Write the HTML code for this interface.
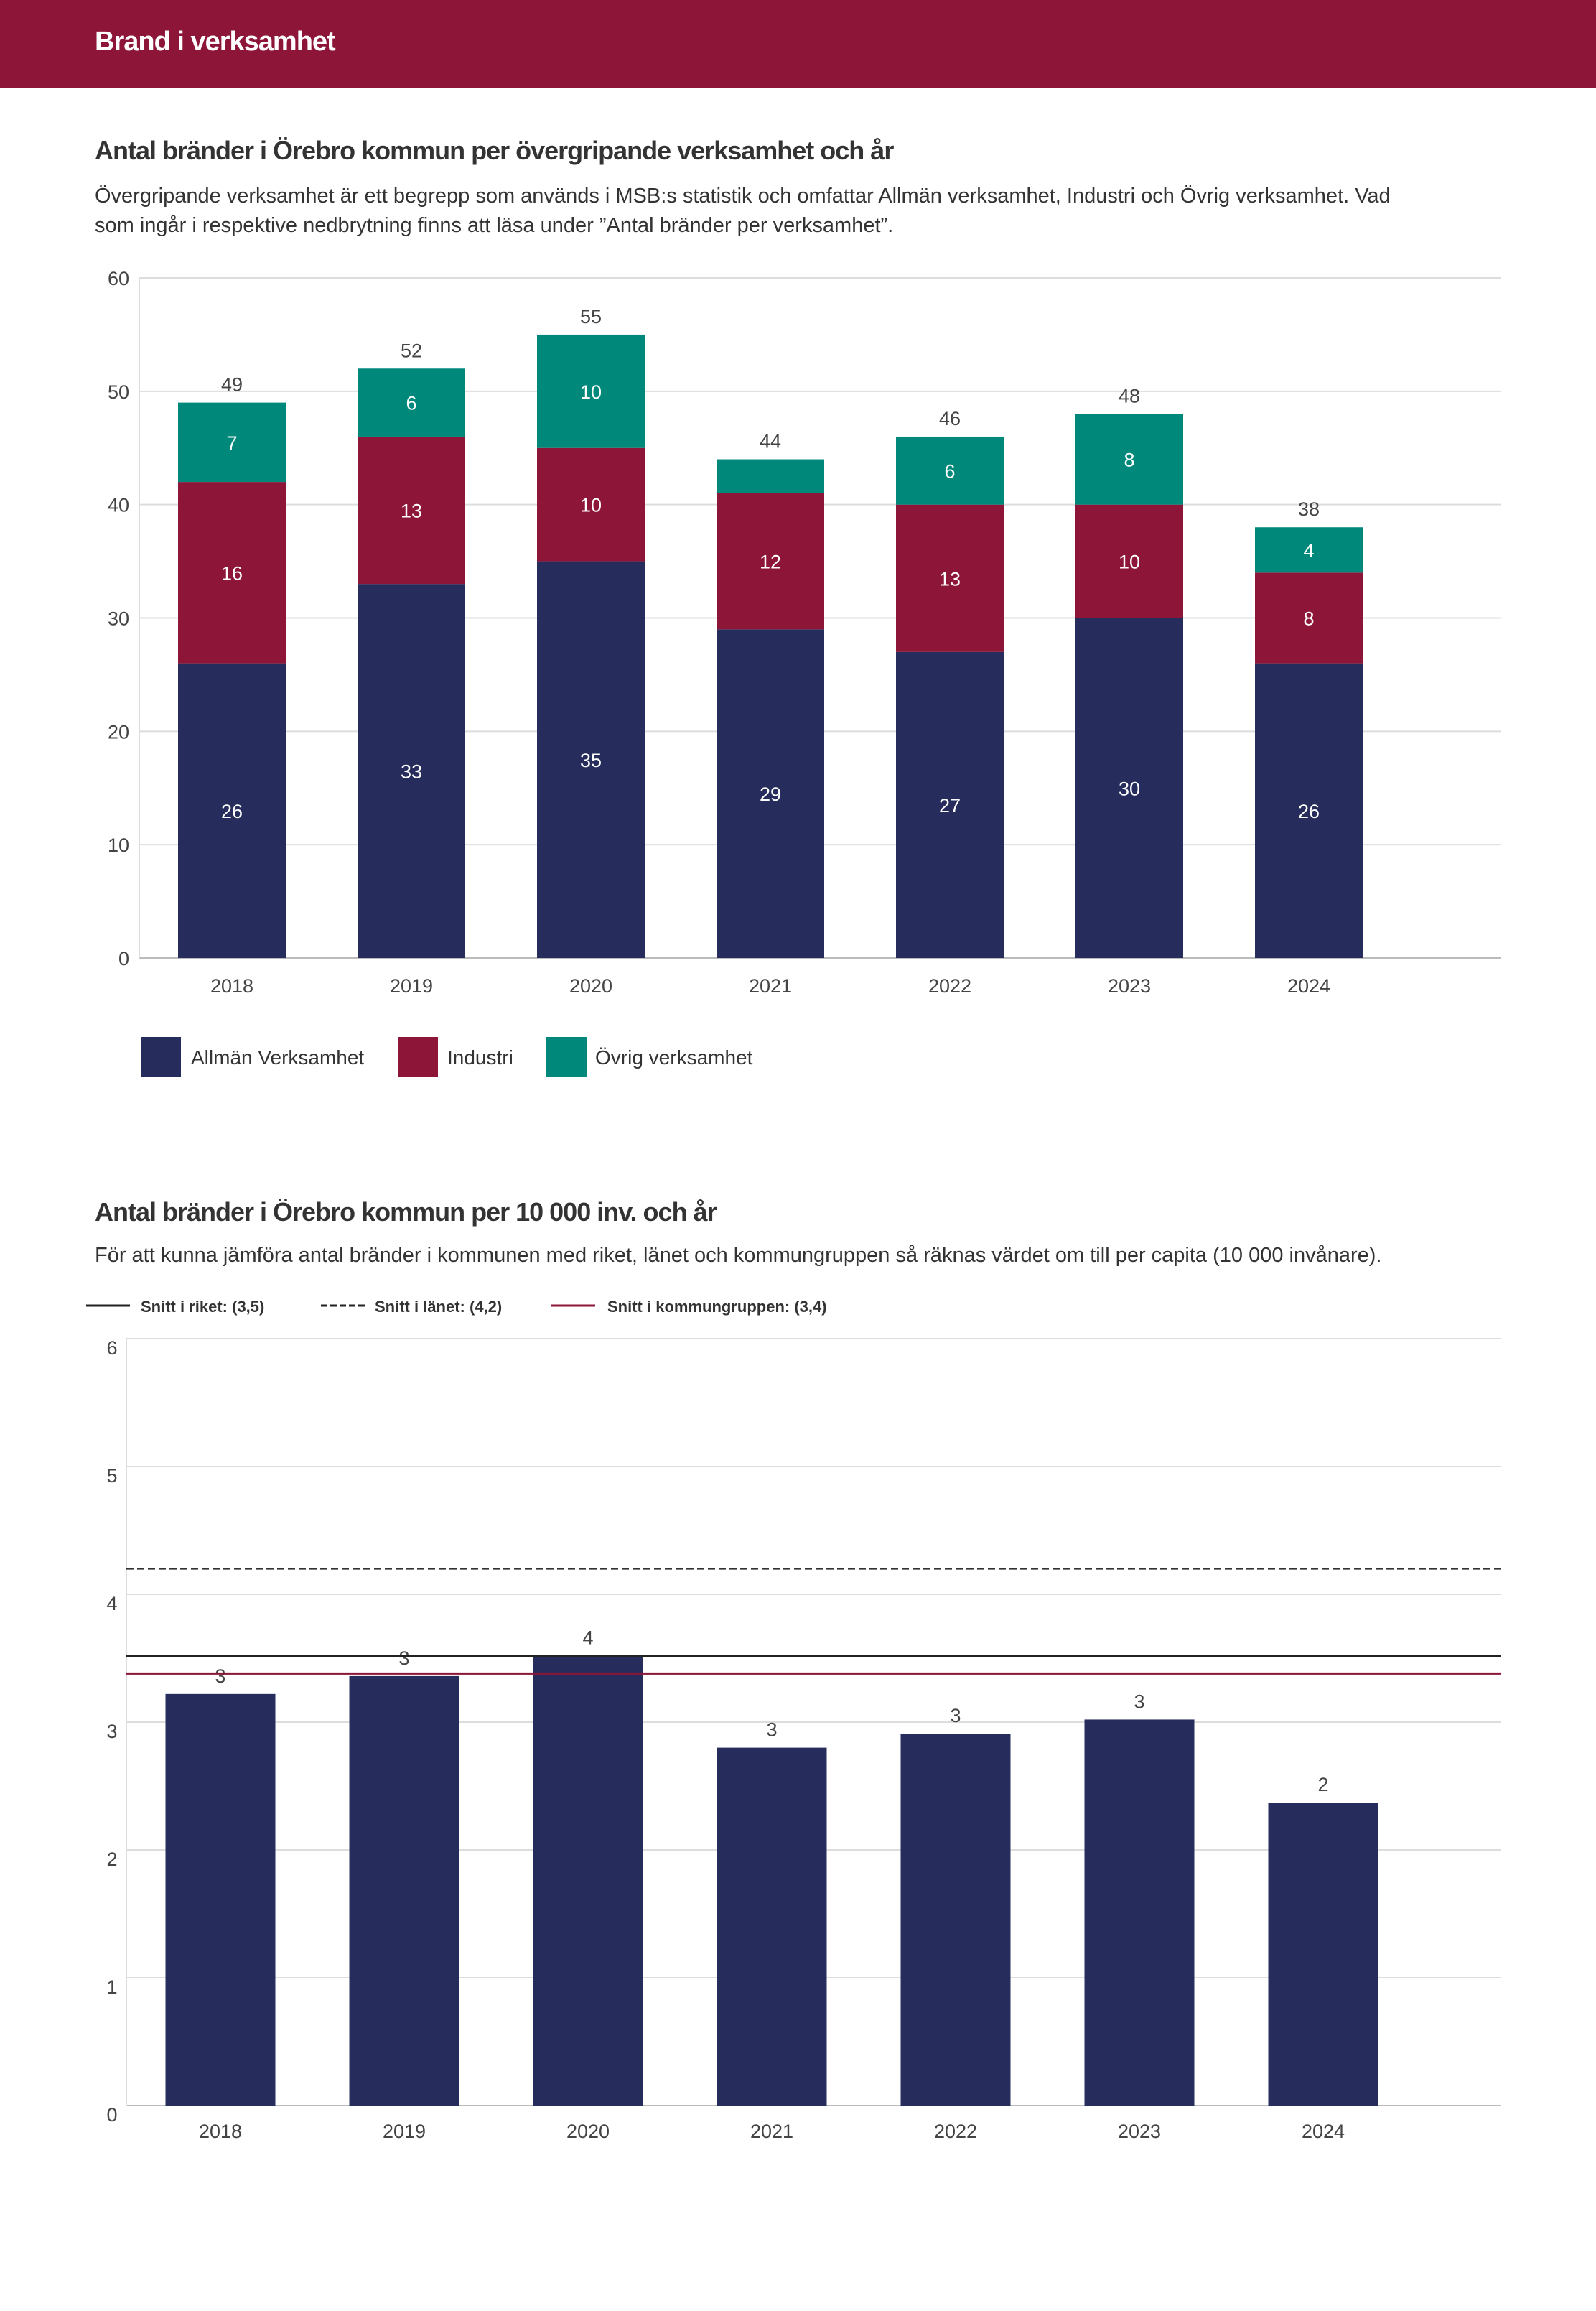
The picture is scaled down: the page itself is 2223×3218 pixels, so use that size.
<!DOCTYPE html>
<html><head><meta charset="utf-8">
<style>
html,body{margin:0;padding:0;background:#fff;}
body{width:2223px;height:3213px;position:relative;overflow:hidden;font-family:"Liberation Sans",sans-serif;color:#333;}
svg text{font-family:"Liberation Sans",sans-serif;}
</style></head>
<body>
<svg id="page" width="2223" height="3213" viewBox="0 0 2223 3213" xmlns="http://www.w3.org/2000/svg">
  <rect x="0" y="0" width="2223" height="122" fill="#8c1538"/>
  <text x="132" y="70" font-size="38" font-weight="bold" fill="#fff" letter-spacing="-1">Brand i verksamhet</text>

  <text x="132" y="222" font-size="36" font-weight="bold" fill="#333" letter-spacing="-1">Antal bränder i Örebro kommun per övergripande verksamhet och år</text>
  <text x="132" y="282" font-size="29" fill="#333">Övergripande verksamhet är ett begrepp som används i MSB:s statistik och omfattar Allmän verksamhet, Industri och Övrig verksamhet. Vad</text>
  <text x="132" y="323" font-size="29" fill="#333">som ingår i respektive nedbrytning finns att läsa under ”Antal bränder per verksamhet”.</text>
  <g id="chart1"></g>

  <g>
    <rect x="196" y="1444" width="56" height="56" fill="#262d5c"/>
    <text x="266" y="1482" font-size="28" fill="#333">Allmän Verksamhet</text>
    <rect x="554" y="1444" width="56" height="56" fill="#8c1538"/>
    <text x="623" y="1482" font-size="28" fill="#333">Industri</text>
    <rect x="761" y="1444" width="56" height="56" fill="#00897b"/>
    <text x="829" y="1482" font-size="28" fill="#333">Övrig verksamhet</text>
  </g>

  <text x="132" y="1700" font-size="36" font-weight="bold" fill="#333" letter-spacing="-1">Antal bränder i Örebro kommun per 10 000 inv. och år</text>
  <text x="132" y="1757" font-size="29" fill="#333">För att kunna jämföra antal bränder i kommunen med riket, länet och kommungruppen så räknas värdet om till per capita (10 000 invånare).</text>
  <g>
    <line x1="120" y1="1818" x2="181" y2="1818" stroke="#222" stroke-width="3"/>
    <text x="196" y="1827" font-size="22" font-weight="bold" fill="#333">Snitt i riket: (3,5)</text>
    <line x1="447" y1="1818" x2="508" y2="1818" stroke="#222" stroke-width="3" stroke-dasharray="9,4"/>
    <text x="522" y="1827" font-size="22" font-weight="bold" fill="#333">Snitt i länet: (4,2)</text>
    <line x1="767" y1="1818" x2="829" y2="1818" stroke="#8c1538" stroke-width="3"/>
    <text x="846" y="1827" font-size="22" font-weight="bold" fill="#333">Snitt i kommungruppen: (3,4)</text>
  </g>
  <g id="chart2"></g>
</svg>
<script>
const years = ["2018","2019","2020","2021","2022","2023","2024"];
const allman = [26,33,35,29,27,30,26];
const industri = [16,13,10,12,13,10,8];
const ovrig = [7,6,10,3,6,8,4];
const ovrigLabels = ["7","6","10","","6","8","4"];
const ticks1 = [0,10,20,30,40,50,60];

const perCapita = [3.22,3.36,3.52,2.80,2.91,3.02,2.37];
const perCapitaLabels = ["3","3","4","3","3","3","2"];
const ticks2 = [0,1,2,3,4,5,6];
const riketAvg = 3.52;
const lanetAvg = 4.2;
const kommungruppAvg = 3.38;

const NS = "http://www.w3.org/2000/svg";
function mk(tag, attrs, parent, txt){
  const e = document.createElementNS(NS, tag);
  for (const k in attrs) e.setAttribute(k, attrs[k]);
  if (txt !== undefined) e.textContent = txt;
  parent.appendChild(e);
  return e;
}

// Chart 1
(function(){
  const g = document.getElementById('chart1');
  const x0 = 194, x1 = 2090, yTop = 387, yBot = 1334, vmax = 60;
  const y = v => yBot - (v / vmax) * (yBot - yTop);
  const xc = i => 323 + i * 250;
  const bw = 150;
  ticks1.forEach(t => {
    const ln = mk('line', {x1:x0, x2:x1, y1:y(t), y2:y(t), stroke: t===0?'#bbb':'#ddd', 'stroke-width':2}, g);
    
    
    const tx = mk('text', {x:180, y:y(t)+10, 'text-anchor':'end', 'font-size':27, fill:'#444'}, g, String(t));
    
    
  });
  const ax = mk('line', {x1:x0, x2:x0, y1:yTop, y2:yBot, stroke:'#ddd', 'stroke-width':2}, g);
  
  
  years.forEach((yr, i) => {
    const segs = [[allman[i], '#262d5c', 'allman', String(allman[i])], [industri[i], '#8c1538', 'industri', String(industri[i])], [ovrig[i], '#00897b', 'ovrig', ovrigLabels[i]]];
    let base = 0;
    segs.forEach(s => {
      const r = mk('rect', {x: xc(i)-bw/2, y: y(base+s[0]), width: bw, height: y(base)-y(base+s[0]), fill: s[1]}, g);
      
      
      if (s[3] !== '') {
        const t = mk('text', {x: xc(i), y: (y(base)+y(base+s[0]))/2 + 10, 'text-anchor':'middle', 'font-size':27, fill:'#fff'}, g, s[3]);
        
        
      }
      base += s[0];
    });
    const tot = mk('text', {x: xc(i), y: y(base) - 16, 'text-anchor':'middle', 'font-size':27, fill:'#444'}, g, String(base));
    
    
    const xl = mk('text', {x: xc(i), y: 1382, 'text-anchor':'middle', 'font-size':27, fill:'#444'}, g, yr);
    
    
  });
})();

// Chart 2
(function(){
  const g = document.getElementById('chart2');
  const x0 = 176, x1 = 2090, yTop = 1864, yBot = 2932, vmax = 6;
  const y = v => yBot - (v / vmax) * (yBot - yTop);
  const xc = i => 307 + i * 256;
  const bw = 153;
  ticks2.forEach(t => {
    const ln = mk('line', {x1:x0, x2:x1, y1:y(t), y2:y(t), stroke: t===0?'#bbb':'#ddd', 'stroke-width':2}, g);
    
    
    const tx = mk('text', {x:156, y:y(t)+22, 'text-anchor':'middle', 'font-size':27, fill:'#444'}, g, String(t));
    
    
  });
  const ax = mk('line', {x1:x0, x2:x0, y1:yTop, y2:yBot, stroke:'#ddd', 'stroke-width':2}, g);
  
  
  years.forEach((yr, i) => {
    const r = mk('rect', {x: xc(i)-bw/2, y: y(perCapita[i]), width: bw, height: yBot - y(perCapita[i]), fill:'#262d5c'}, g);
    
    
    const t = mk('text', {x: xc(i), y: y(perCapita[i]) - 16, 'text-anchor':'middle', 'font-size':27, fill:'#444'}, g, perCapitaLabels[i]);
    
    
    const xl = mk('text', {x: xc(i), y: 2977, 'text-anchor':'middle', 'font-size':27, fill:'#444'}, g, yr);
    
    
  });
  const l1 = mk('line', {x1:x0, x2:x1, y1:y(lanetAvg), y2:y(lanetAvg), stroke:'#333', 'stroke-width':2.5, 'stroke-dasharray':'10,5'}, g);
  
  
  const l2 = mk('line', {x1:x0, x2:x1, y1:y(riketAvg), y2:y(riketAvg), stroke:'#222', 'stroke-width':3}, g);
  
  
  const l3 = mk('line', {x1:x0, x2:x1, y1:y(kommungruppAvg), y2:y(kommungruppAvg), stroke:'#8c1538', 'stroke-width':3}, g);
  
  
})();
</script>
</body></html>
